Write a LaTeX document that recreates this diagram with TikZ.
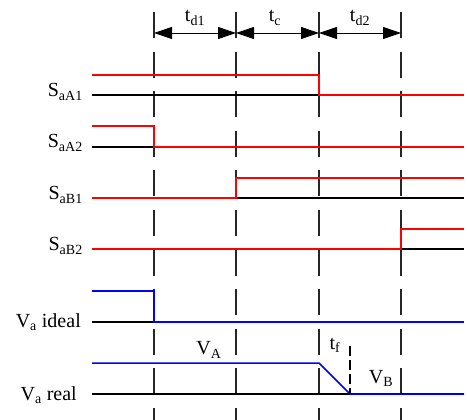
\documentclass[tikz,border=0pt]{standalone}
\usepackage{fontspec}
\setmainfont{Liberation Serif}
\usetikzlibrary{arrows.meta}

\begin{document}
\begin{tikzpicture}[x=1pt, y=-1pt,
    baseln/.style={line width=1.2pt, black},
    gate/.style={line width=1.5pt, red},
    volt/.style={line width=1.5pt, blue},
    guide/.style={line width=1.6pt, black!85, dash pattern=on 26pt off 13.6pt},
    span/.style={line width=0.9pt, {Triangle[length=18pt,width=12pt]}-{Triangle[length=18pt,width=12pt]}},
    lbl/.style={inner sep=0pt, anchor=base east, font=\fontsize{20}{24}\selectfont},
    tag/.style={inner sep=0pt, anchor=base, font=\fontsize{20}{24}\selectfont}]
    \useasboundingbox (0,0) rectangle (467,420);

    % Switching instants
    \foreach \n/\x in {1/154, 2/236, 3/319, 4/401} {
        \draw[guide] (\x,12) -- (\x,420);
        \coordinate (m\n) at (\x,33);
    }

    % Interval markings
    \draw[span] (m1) -- (m2);
    \draw[span] (m2) -- (m3);
    \draw[span] (m3) -- (m4);
    \node[tag] (td1) at (195,22) {t\textsubscript{d1}};
    \node[tag] (tc) at (275,22) {t\textsubscript{c}};
    \node[tag] (td2) at (360,22) {t\textsubscript{d2}};

    % Zero levels
    \foreach \y in {95,147,198,249,322,394}
        \draw[baseln] (92,\y) -- (464,\y);

    % Gate signals
    \draw[gate] (92,75) -- (319,75) -- (319,95) -- (464,95);
    \draw[gate] (92,126) -- (154,126) -- (154,147) -- (464,147);
    \draw[gate] (92,198) -- (236,198) -- (236,178) -- (464,178);
    \draw[gate] (92,249) -- (401,249) -- (401,229) -- (464,229);

    % Output voltage
    \draw[volt] (92,291) -- (154,291) -- (154,322) -- (464,322);
    \draw[volt] (92,363) -- (319,363) -- (350,394) -- (464,394);

    % Fall time
    \draw[line width=1.3pt, dash pattern=on 10pt off 4pt] (350,346) -- (350,394);
    \node[tag] (tf) at (335,349) {t\textsubscript{f}};
    \node[tag] (vA) at (209,355) {V\textsubscript{A}};
    \node[tag] (vB) at (381,383) {V\textsubscript{B}};

    % Row labels
    \node[lbl] (saa1) at (83,97) {S\textsubscript{aA1}};
    \node[lbl] (saa2) at (83,148) {S\textsubscript{aA2}};
    \node[lbl] (sab1) at (83,200) {S\textsubscript{aB1}};
    \node[lbl] (sab2) at (83,251) {S\textsubscript{aB2}};
    \node[lbl] (vid) at (81,327) {V\textsubscript{a} ideal};
    \node[lbl] (vre) at (77,400) {V\textsubscript{a} real};
\end{tikzpicture}
\end{document}
